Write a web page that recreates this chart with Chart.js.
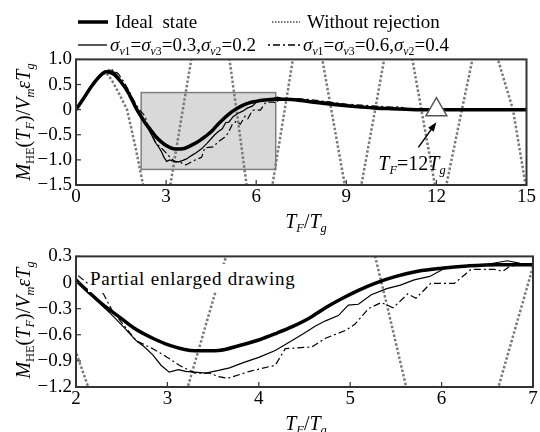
<!DOCTYPE html>
<html>
<head>
<meta charset="utf-8">
<script src="https://cdn.jsdelivr.net/npm/chart.js@4.4.0/dist/chart.umd.min.js"></script>
<style>
  body { margin: 0; background: #fff; }
  #wrap { position: relative; width: 540px; height: 432px; overflow: hidden; font-family: "Liberation Serif", serif; color: #000; }
  canvas { position: absolute; left: 0; }
  .txt { position: absolute; white-space: nowrap; font-size: 19px; line-height: 1; }
  sub { font-size: 0.62em; vertical-align: -0.3em; line-height: 0; }
  .rot { transform: translate(-50%, -50%) rotate(-90deg); }
  .ctr { transform: translate(-50%, -50%); }
</style>
</head>
<body>
<div id="wrap">
  <canvas id="topChart" width="540" height="169" style="top:44px"></canvas>
  <canvas id="zoomChart" width="540" height="174" style="top:241px"></canvas>

  <svg style="position:absolute;left:0;top:0" width="540" height="60">
    <line x1="78" y1="22" x2="108" y2="22" stroke="#000" stroke-width="3.5"/>
    <line x1="272" y1="22" x2="300" y2="22" stroke="#777" stroke-width="2" stroke-dasharray="1.5,1.5"/>
    <line x1="78" y1="45" x2="107" y2="45" stroke="#000" stroke-width="1.3"/>
    <line x1="268" y1="45" x2="300" y2="45" stroke="#000" stroke-width="1.3" stroke-dasharray="2,3,7,3"/>
  </svg>
  <div class="txt" style="left:115px;top:12px">Ideal&nbsp; state</div>
  <div class="txt" style="left:307px;top:12px">Without rejection</div>
  <div class="txt" style="left:110px;top:35px"><i>σ</i><sub><i>v</i>1</sub>=<i>σ</i><sub><i>v</i>3</sub>=0.3,<i>σ</i><sub><i>v</i>2</sub>=0.2</div>
  <div class="txt" style="left:303px;top:35px"><i>σ</i><sub><i>v</i>1</sub>=<i>σ</i><sub><i>v</i>3</sub>=0.6,<i>σ</i><sub><i>v</i>2</sub>=0.4</div>

  <div class="txt rot" style="left:23px;top:122px;font-size:20px"><i>M</i><sub>HE</sub>(<i>T</i><sub><i>F</i></sub>)/<i>V</i><sub><i>m</i></sub><i>εT</i><sub><i>g</i></sub></div>
  <div class="txt rot" style="left:23px;top:320px;font-size:20px"><i>M</i><sub>HE</sub>(<i>T</i><sub><i>F</i></sub>)/<i>V</i><sub><i>m</i></sub><i>εT</i><sub><i>g</i></sub></div>
  <div class="txt ctr" style="left:306px;top:221px;font-size:20px"><i>T</i><sub><i>F</i></sub>/<i>T</i><sub><i>g</i></sub></div>
  <div class="txt ctr" style="left:306px;top:423px;font-size:20px"><i>T</i><sub><i>F</i></sub>/<i>T</i><sub><i>g</i></sub></div>

  <div class="txt ctr" style="left:412px;top:163px;font-size:20px"><i>T</i><sub><i>F</i></sub>=12<i>T</i><sub><i>g</i></sub></div>
  <div class="txt" style="left:88px;top:264px;height:28px;padding:5px 2px 0 2px;box-sizing:border-box;background:#fff;font-size:19px;letter-spacing:0.8px">Partial enlarged drawing</div>
</div>

<script>
// ideal state
const idealX = [0, 0.25, 0.5, 0.75, 1.0, 1.25, 1.5, 1.75, 2.0, 2.15, 2.3, 2.48, 2.66, 2.84, 3.02, 3.3, 3.56, 3.8, 4.0, 4.2, 4.36, 4.55, 4.73, 4.9, 5.09, 5.27, 5.5, 5.74, 6.0, 6.28, 6.6, 7.0, 7.5, 8.0, 8.5, 9.0, 9.5, 10.0, 10.5, 11.0, 11.5, 12, 13, 14, 15];
const idealY = [0, 0.22, 0.45, 0.64, 0.755, 0.71, 0.55, 0.33, 0.03, -0.12, -0.26, -0.40, -0.54, -0.64, -0.72, -0.785, -0.78, -0.72, -0.66, -0.58, -0.51, -0.41, -0.29, -0.19, -0.09, -0.01, 0.07, 0.13, 0.165, 0.19, 0.205, 0.205, 0.18, 0.14, 0.105, 0.075, 0.05, 0.03, 0.018, 0.008, 0, 0, 0, 0, 0];

// sigma v1 = v3 = 0.3, v2 = 0.2
const lowX = [0, 0.25, 0.5, 0.75, 1.0, 1.1, 1.3, 1.5, 1.75, 2.0, 2.15, 2.28, 2.4, 2.53, 2.66, 2.75, 2.84, 2.93, 3.02, 3.12, 3.2, 3.3, 3.42, 3.56, 3.68, 3.83, 4.0, 4.18, 4.36, 4.5, 4.62, 4.73, 4.87, 4.98, 5.09, 5.23, 5.4, 5.55, 5.7, 5.87, 6.03, 6.28, 6.5, 6.72, 6.86, 7.0, 7.4, 7.8, 8.2, 8.6, 9.0, 9.5, 10.0, 10.5, 11.0, 11.5, 12, 15];
const lowY = [0, 0.22, 0.46, 0.66, 0.77, 0.79, 0.74, 0.58, 0.35, 0.03, -0.13, -0.26, -0.38, -0.52, -0.67, -0.74, -0.83, -0.95, -1.03, -1.0, -1.02, -1.03, -1.04, -1.01, -0.98, -0.92, -0.86, -0.78, -0.67, -0.58, -0.5, -0.44, -0.38, -0.26, -0.25, -0.14, -0.07, -0.03, 0.03, 0.07, 0.16, 0.19, 0.21, 0.25, 0.22, 0.21, 0.21, 0.18, 0.16, 0.13, 0.1, 0.07, 0.05, 0.03, 0.01, 0, 0, 0];

// sigma v1 = v3 = 0.6, v2 = 0.4
const highX = [0, 0.25, 0.5, 0.75, 1.0, 1.18, 1.4, 1.6, 1.8, 2.0, 2.15, 2.3, 2.4, 2.53, 2.66, 2.84, 3.0, 3.13, 3.3, 3.46, 3.56, 3.66, 3.9, 4.18, 4.29, 4.58, 4.73, 4.95, 5.05, 5.2, 5.34, 5.47, 5.63, 5.72, 5.88, 6.14, 6.32, 6.58, 6.67, 6.75, 7.0, 7.4, 7.8, 8.2, 8.6, 9.0, 9.5, 10.0, 10.5, 10.8, 11.0, 11.5, 15];
const highY = [0, 0.21, 0.44, 0.64, 0.77, 0.8, 0.72, 0.55, 0.33, 0.1, -0.03, -0.13, -0.33, -0.5, -0.67, -0.76, -0.86, -0.95, -1.04, -1.04, -1.08, -1.10, -1.02, -0.95, -0.76, -0.74, -0.64, -0.55, -0.48, -0.3, -0.23, -0.29, -0.13, -0.18, -0.01, -0.01, 0.15, 0.15, 0.13, 0.19, 0.21, 0.22, 0.2, 0.17, 0.14, 0.11, 0.09, 0.07, 0.05, 0.06, 0.01, 0, 0];

// without rejection
const rawX = [0, 0.25, 0.5, 0.75, 1.0, 1.2, 1.45, 1.7, 2.0, 2.25, 2.6, 2.85, 3.14, 3.5, 3.84, 4.2, 4.5, 4.8, 5.11, 5.4, 5.68, 6.0, 6.2, 6.54, 6.95, 7.22, 7.6, 7.9, 8.2, 8.5, 8.95, 9.2, 9.3, 9.5, 9.96, 10.26, 10.6, 10.9, 11.2, 11.5, 11.95, 12.1, 12.2, 12.33, 12.85, 13.2, 13.5, 13.8, 14.05, 14.55, 14.97, 15];
const rawY = [0, 0.22, 0.45, 0.64, 0.74, 0.58, 0.3, 0.0, -0.8, -1.55, -2.6, -2.6, -1.5, -0.2, 1.0, 2.2, 2.6, 2.2, 1.0, -0.25, -1.5, -2.6, -2.6, -1.5, 0.0, 1.0, 2.4, 2.4, 1.0, 0.0, -1.5, -2.3, -2.3, -1.5, 0.0, 1.0, 2.2, 2.2, 1.0, 0.0, -1.5, -2.0, -2.0, -1.5, 0.0, 1.0, 2.0, 2.0, 1.0, 0.0, -1.5, -1.6];

// marked point T_F = 12 T_g
const markX = [12];
const markY = [0];

const topXTicks = [0, 3, 6, 9, 12, 15];
const topXLabels = ['0', '3', '6', '9', '12', '15'];
const topYTicks = [1.0, 0.5, 0, -0.5, -1.0, -1.5];
const topYLabels = ['1.0', '0.5', '0', '\u22120.5', '\u22121.0', '\u22121.5'];
const zoomXTicks = [2, 3, 4, 5, 6, 7];
const zoomXLabels = ['2', '3', '4', '5', '6', '7'];
const zoomYTicks = [0.3, 0, -0.3, -0.6, -0.9, -1.2];
const zoomYLabels = ['0.3', '0', '\u22120.3', '\u22120.6', '\u22120.9', '\u22121.2'];

// enlarged region [x0, x1, y0, y1] and arrow to the marked point
const zoomBox = [2.17, 6.65, -1.19, 0.34];
const arrowFrom = [11.4, -0.75];
const arrowTo = [12.0, -0.25];

function pts(xs, ys) {
  return xs.map((x, i) => ({ x: x, y: ys[i] }));
}

const serif = { family: '"Liberation Serif", serif', size: 19 };

const framePlugin = {
  id: 'frame',
  beforeDatasetsDraw(chart, args, opts) {
    if (!opts.box) return;
    const { ctx, scales: { x, y } } = chart;
    const b = opts.box;
    const x0 = x.getPixelForValue(b[0]), x1 = x.getPixelForValue(b[1]);
    const y0 = y.getPixelForValue(b[3]), y1 = y.getPixelForValue(b[2]);
    ctx.save();
    ctx.fillStyle = '#d9d9d9';
    ctx.fillRect(x0, y0, x1 - x0, y1 - y0);
    ctx.strokeStyle = '#7f7f7f';
    ctx.lineWidth = 1.5;
    ctx.strokeRect(x0, y0, x1 - x0, y1 - y0);
    ctx.restore();
  },
  afterDraw(chart, args, opts) {
    const { ctx, chartArea: a, scales: { x, y } } = chart;
    ctx.save();
    ctx.strokeStyle = '#333';
    ctx.lineWidth = 1.2;
    x.ticks.forEach(t => {
      const px = x.getPixelForValue(t.value);
      ctx.beginPath(); ctx.moveTo(px, a.bottom); ctx.lineTo(px, a.bottom - 5); ctx.stroke();
    });
    y.ticks.forEach(t => {
      const py = y.getPixelForValue(t.value);
      ctx.beginPath(); ctx.moveTo(a.left, py); ctx.lineTo(a.left + 5, py); ctx.stroke();
    });
    ctx.lineWidth = 2;
    ctx.strokeRect(a.left, a.top, a.right - a.left, a.bottom - a.top);
    if (opts.arrow) {
      const [p, q] = opts.arrow;
      const x0 = x.getPixelForValue(p[0]), y0 = y.getPixelForValue(p[1]);
      const x1 = x.getPixelForValue(q[0]), y1 = y.getPixelForValue(q[1]);
      const ang = Math.atan2(y1 - y0, x1 - x0);
      ctx.strokeStyle = '#000';
      ctx.lineWidth = 1.5;
      ctx.beginPath(); ctx.moveTo(x0, y0); ctx.lineTo(x1 - 6 * Math.cos(ang), y1 - 6 * Math.sin(ang)); ctx.stroke();
      ctx.fillStyle = '#000';
      ctx.beginPath();
      ctx.moveTo(x1, y1);
      ctx.lineTo(x1 - 10 * Math.cos(ang - 0.35), y1 - 10 * Math.sin(ang - 0.35));
      ctx.lineTo(x1 - 10 * Math.cos(ang + 0.35), y1 - 10 * Math.sin(ang + 0.35));
      ctx.closePath(); ctx.fill();
    }
    ctx.restore();
  }
};

function makeDatasets(withMark) {
  const sets = [
    { label: 'Ideal state', data: pts(idealX, idealY), borderColor: '#000', borderWidth: 3.5, cubicInterpolationMode: 'monotone' },
    { label: 'σv1=σv3=0.3,σv2=0.2', data: pts(lowX, lowY), borderColor: '#000', borderWidth: 1.2 },
    { label: 'σv1=σv3=0.6,σv2=0.4', data: pts(highX, highY), borderColor: '#000', borderWidth: 1.2, borderDash: [7, 3, 2, 3] },
    { label: 'Without rejection', data: pts(rawX, rawY), borderColor: '#7a7a7a', borderWidth: 2.5, borderDash: [2.5, 2] }
  ];
  sets.forEach(s => { s.pointRadius = 0; s.fill = false; s.clip = 0; });
  if (withMark) {
    sets.unshift({ label: 'mark', data: pts(markX, markY), showLine: false, pointStyle: 'triangle', pointRadius: 12,
      backgroundColor: '#fff', borderColor: '#555', borderWidth: 1.5, clip: false });
  }
  return sets;
}

function makeConfig(xr, yr, xt, xl, yt, yl, pad, box, arrow, withMark) {
  return {
    type: 'line',
    data: { datasets: makeDatasets(withMark) },
    plugins: [framePlugin],
    options: {
      responsive: false,
      animation: false,
      layout: { padding: pad },
      plugins: {
        legend: { display: false },
        tooltip: { enabled: false },
        frame: { box: box, arrow: arrow }
      },
      scales: {
        x: {
          type: 'linear', min: xr[0], max: xr[1],
          afterBuildTicks: s => { s.ticks = xt.map(v => ({ value: v })); },
          afterFit: s => { s.height = 28; },
          ticks: { autoSkip: false, maxRotation: 0, font: serif, color: '#000', padding: 1,
            callback: v => xl[xt.indexOf(v)] },
          grid: { display: false, drawTicks: false, tickLength: 0 },
          border: { display: false }
        },
        y: {
          min: yr[0], max: yr[1],
          afterBuildTicks: s => { s.ticks = yt.map(v => ({ value: v })); },
          afterFit: s => { s.width = 76; },
          ticks: { autoSkip: false, font: serif, color: '#000', padding: 4,
            callback: v => yl[yt.indexOf(v)] },
          grid: { display: false, drawTicks: false, tickLength: 0 },
          border: { display: false }
        }
      }
    }
  };
}

new Chart(document.getElementById('topChart'),
  makeConfig([0, 15], [-1.5, 1.0], topXTicks, topXLabels, topYTicks, topYLabels,
    { left: 0, right: 9, top: 14, bottom: 0 }, zoomBox, [arrowFrom, arrowTo], true));

new Chart(document.getElementById('zoomChart'),
  makeConfig([2, 7], [-1.2, 0.3], zoomXTicks, zoomXLabels, zoomYTicks, zoomYLabels,
    { left: 0, right: 7, top: 14, bottom: 0 }, null, null, false));
</script>
</body>
</html>
